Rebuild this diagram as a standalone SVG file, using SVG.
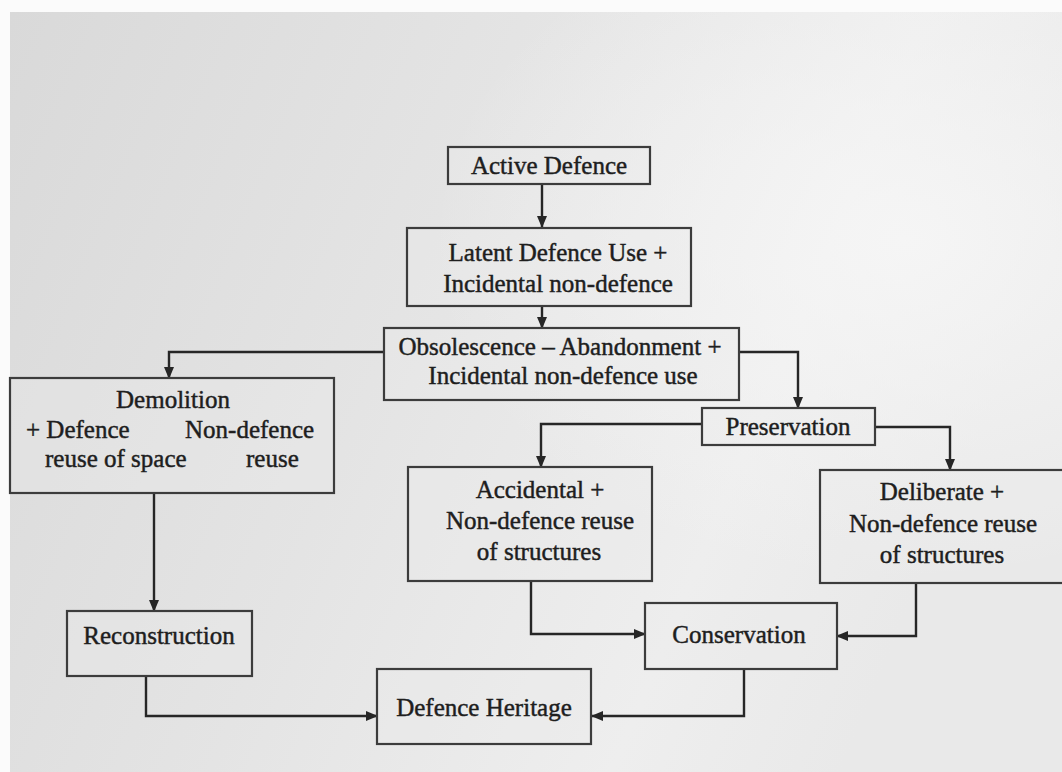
<svg xmlns="http://www.w3.org/2000/svg" width="1062" height="772" viewBox="0 0 1062 772">
  <defs>
    <linearGradient id="bg" x1="0" y1="0" x2="1" y2="0.3">
      <stop offset="0" stop-color="#d9d9d9"/>
      <stop offset="0.45" stop-color="#e4e4e4"/>
      <stop offset="0.8" stop-color="#eeeeee"/>
      <stop offset="1" stop-color="#e9e9e9"/>
    </linearGradient>
    <radialGradient id="glow" cx="0.85" cy="0.3" r="0.45">
      <stop offset="0" stop-color="#f6f6f6" stop-opacity="0.9"/>
      <stop offset="1" stop-color="#f6f6f6" stop-opacity="0"/>
    </radialGradient>
    <marker id="arr" markerWidth="12" markerHeight="12" refX="11" refY="6" orient="auto" markerUnits="userSpaceOnUse">
      <path d="M0,1 L12,6 L0,11 Z" fill="#262626"/>
    </marker>
  </defs>
  <style>
    .box { fill: #ececec; fill-opacity: 0.35; stroke: #3c3c3c; stroke-width: 2.2; }
    .t { font-family: "Liberation Serif", "Times New Roman", serif; font-size: 25px; fill: #1e1e1e; stroke: #1e1e1e; stroke-width: 0.45; text-anchor: middle; }
    .tl { font-family: "Liberation Serif", "Times New Roman", serif; font-size: 25px; fill: #1e1e1e; stroke: #1e1e1e; stroke-width: 0.45; }
    .c { fill: none; stroke: #262626; stroke-width: 2.4; marker-end: url(#arr); }
  </style>
  <rect x="0" y="0" width="1062" height="772" fill="#fbfbfb"/>
  <rect x="10" y="12" width="1052" height="760" fill="url(#bg)"/>
  <rect x="10" y="12" width="1052" height="760" fill="url(#glow)"/>

  <g id="connectors">
    <path class="c" d="M542 184 V227"/>
    <path class="c" d="M542 306 V328"/>
    <path class="c" d="M384 352 H169 V378"/>
    <path class="c" d="M739 352 H798 V408"/>
    <path class="c" d="M702 424 H541 V467"/>
    <path class="c" d="M875 427 H950 V470"/>
    <path class="c" d="M154 493 V611"/>
    <path class="c" d="M531 581 V634 H645"/>
    <path class="c" d="M916 583 V636 H837"/>
    <path class="c" d="M744 669 V716 H592"/>
    <path class="c" d="M146 676 V716 H377"/>
  </g>

  <g id="active-defence">
    <rect class="box" x="448" y="147" width="202" height="37"/>
    <text class="t" x="549" y="174">Active Defence</text>
  </g>
  <g id="latent">
    <rect class="box" x="407" y="228" width="284" height="78"/>
    <text class="t" x="558" y="261">Latent Defence Use +</text>
    <text class="t" x="558" y="292">Incidental non-defence</text>
  </g>
  <g id="obsolescence">
    <rect class="box" x="384" y="328" width="355" height="72"/>
    <text class="t" x="560" y="355">Obsolescence – Abandonment +</text>
    <text class="t" x="563" y="384">Incidental non-defence use</text>
  </g>
  <g id="demolition">
    <rect class="box" x="10" y="378" width="324" height="115"/>
    <text class="t" x="173" y="408">Demolition</text>
    <text class="tl" x="26" y="438">+ Defence</text>
    <text class="tl" x="185" y="438">Non-defence</text>
    <text class="tl" x="45" y="467">reuse of space</text>
    <text class="tl" x="246" y="467">reuse</text>
  </g>
  <g id="preservation">
    <rect class="box" x="702" y="408" width="173" height="37"/>
    <text class="t" x="788" y="435">Preservation</text>
  </g>
  <g id="accidental">
    <rect class="box" x="408" y="467" width="244" height="114"/>
    <text class="t" x="540" y="498">Accidental +</text>
    <text class="t" x="540" y="529">Non-defence reuse</text>
    <text class="t" x="539" y="560">of structures</text>
  </g>
  <g id="deliberate">
    <rect class="box" x="820" y="470" width="250" height="113"/>
    <text class="t" x="942" y="500">Deliberate +</text>
    <text class="t" x="943" y="532">Non-defence reuse</text>
    <text class="t" x="942" y="563">of structures</text>
  </g>
  <g id="reconstruction">
    <rect class="box" x="67" y="611" width="185" height="65"/>
    <text class="t" x="159" y="644">Reconstruction</text>
  </g>
  <g id="conservation">
    <rect class="box" x="645" y="603" width="192" height="66"/>
    <text class="t" x="739" y="643">Conservation</text>
  </g>
  <g id="defence-heritage">
    <rect class="box" x="377" y="669" width="214" height="75"/>
    <text class="t" x="484" y="716">Defence Heritage</text>
  </g>
</svg>
